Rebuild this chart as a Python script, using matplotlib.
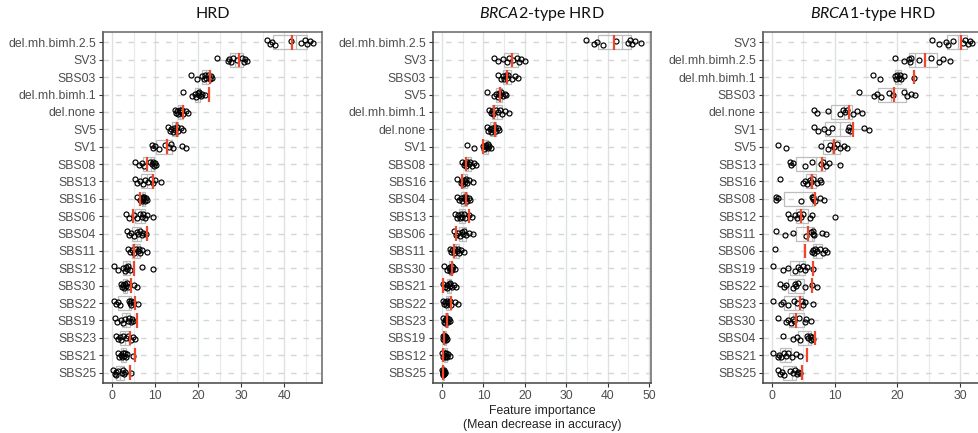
import matplotlib
matplotlib.use("Agg")
import matplotlib.pyplot as plt
import numpy as np

# ---------------- data ----------------
hrd_features = ["del.mh.bimh.2.5", "SV3", "SBS03", "del.mh.bimh.1", "del.none", "SV5", "SV1",
                "SBS08", "SBS13", "SBS16", "SBS06", "SBS04", "SBS11", "SBS12", "SBS30",
                "SBS22", "SBS19", "SBS23", "SBS21", "SBS25"]
hrd_points = [
    [36.0, 36.6, 37.2, 37.9, 41.6, 44.0, 44.9, 45.4, 46.0, 46.7],
    [24.5, 26.9, 27.3, 27.7, 28.2, 29.0, 30.3, 30.6, 31.0, 31.4],
    [18.3, 19.7, 20.8, 21.4, 21.7, 21.9, 22.2, 22.7, 23.0, 23.3],
    [16.4, 18.5, 19.2, 19.6, 19.9, 20.1, 20.3, 20.6, 21.0, 21.5],
    [14.7, 14.9, 15.2, 15.4, 15.7, 15.9, 16.2, 16.6, 17.2, 17.7],
    [13.1, 13.5, 13.8, 14.1, 14.4, 14.7, 15.0, 15.4, 16.0, 16.6],
    [9.2, 9.5, 9.9, 11.0, 12.3, 13.2, 13.6, 14.1, 16.2, 17.1],
    [5.3, 6.3, 7.0, 7.5, 8.8, 9.2, 9.5, 9.8, 10.0, 10.3],
    [5.3, 5.9, 6.5, 7.1, 7.7, 8.4, 9.0, 9.5, 10.0, 11.3],
    [5.7, 6.4, 6.9, 7.0, 7.1, 7.3, 7.4, 7.6, 7.8, 8.1],
    [3.3, 4.0, 5.0, 5.9, 6.5, 6.9, 7.3, 7.7, 8.1, 9.5],
    [3.4, 4.0, 4.5, 5.1, 5.7, 6.1, 6.5, 6.9, 7.3, 7.8],
    [3.6, 4.2, 4.6, 5.0, 5.6, 6.0, 6.3, 6.5, 6.9, 8.1],
    [0.5, 1.5, 2.5, 2.9, 3.2, 3.5, 3.8, 4.2, 6.9, 9.5],
    [2.0, 2.3, 2.6, 2.8, 3.0, 3.2, 3.4, 3.6, 5.0, 5.9],
    [0.5, 0.9, 1.4, 1.8, 4.0, 4.1, 4.3, 4.5, 4.8, 6.1],
    [0.7, 1.2, 2.1, 2.6, 3.1, 3.6, 3.9, 4.3, 4.6, 4.9],
    [1.0, 1.4, 1.8, 2.0, 2.5, 3.3, 3.7, 4.3, 4.9, 5.3],
    [1.4, 1.7, 2.0, 2.3, 2.5, 2.8, 3.0, 3.2, 3.4, 4.8],
    [0.2, 0.6, 0.9, 1.0, 1.3, 2.2, 2.5, 2.8, 3.0, 4.5],
]
hrd_full = [41.9, 29.5, 22.8, 22.6, 16.4, 15.0, 12.7, 8.1, 9.5, 6.6,
            4.9, 8.1, 5.2, 5.0, 4.4, 5.3, 5.7, 4.2, 5.3, 4.2]

brca2_features = ["del.mh.bimh.2.5", "SV3", "SBS03", "SV5", "del.mh.bimh.1", "del.none", "SV1",
                  "SBS08", "SBS16", "SBS04", "SBS13", "SBS06", "SBS11", "SBS30", "SBS21",
                  "SBS22", "SBS23", "SBS19", "SBS12", "SBS25"]
brca2_points = [
    [34.9, 36.6, 37.4, 39.0, 42.0, 45.0, 45.4, 45.8, 46.6, 48.2],
    [12.6, 13.4, 14.8, 15.6, 16.1, 17.1, 18.2, 18.5, 19.0, 20.0],
    [13.6, 14.2, 14.7, 15.0, 15.4, 15.6, 16.0, 16.8, 17.6, 18.4],
    [10.9, 12.6, 13.0, 13.4, 13.8, 14.1, 14.3, 14.7, 15.1, 15.5],
    [11.4, 11.8, 12.0, 12.4, 13.0, 13.6, 14.0, 14.6, 15.2, 16.2],
    [10.8, 11.2, 11.6, 11.9, 12.1, 12.4, 12.7, 13.0, 13.4, 13.8],
    [6.1, 7.6, 9.8, 10.1, 10.5, 10.7, 11.0, 11.2, 11.4, 11.8],
    [4.8, 5.2, 5.5, 5.8, 6.1, 6.4, 6.8, 7.2, 7.6, 8.2],
    [3.5, 4.6, 4.8, 5.1, 5.3, 5.6, 5.8, 6.1, 6.6, 7.4],
    [3.7, 4.2, 4.6, 4.9, 5.2, 5.5, 5.8, 6.1, 6.4, 6.8],
    [3.1, 3.5, 3.9, 4.3, 4.6, 4.8, 5.2, 5.6, 6.6, 7.2],
    [2.9, 3.4, 3.9, 4.3, 4.8, 5.0, 5.3, 5.8, 6.6, 7.4],
    [1.8, 2.2, 2.5, 2.8, 3.1, 3.5, 3.9, 4.2, 4.6, 5.3],
    [0.5, 1.1, 1.6, 1.8, 2.0, 2.1, 2.3, 2.5, 2.7, 3.0],
    [0.3, 0.8, 1.1, 1.3, 1.6, 1.8, 2.0, 2.3, 2.8, 3.3],
    [0.2, 0.5, 0.8, 1.0, 1.3, 1.5, 1.9, 2.1, 3.0, 3.9],
    [0.3, 0.5, 0.6, 0.8, 1.0, 1.1, 1.3, 1.5, 1.7, 2.0],
    [0.1, 0.3, 0.4, 0.5, 0.6, 0.7, 0.8, 0.9, 1.0, 1.3],
    [0.0, 0.2, 0.4, 0.6, 0.7, 0.9, 1.0, 1.2, 1.5, 1.8],
    [0.0, 0.1, 0.2, 0.2, 0.3, 0.3, 0.4, 0.5, 0.6, 0.8],
]
brca2_full = [41.5, 16.8, 15.8, 14.0, 12.6, 12.8, 9.8, 5.8, 4.8, 5.8,
              6.4, 3.4, 2.9, 2.3, 0.1, 2.1, 1.3, 0.5, 0.1, 0.2]

brca1_features = ["SV3", "del.mh.bimh.2.5", "del.mh.bimh.1", "SBS03", "del.none", "SV1", "SV5",
                  "SBS13", "SBS16", "SBS08", "SBS12", "SBS11", "SBS06", "SBS19", "SBS22",
                  "SBS23", "SBS30", "SBS04", "SBS21", "SBS25"]
brca1_points = [
    [25.5, 26.7, 27.8, 28.0, 28.9, 30.4, 30.8, 31.2, 31.5, 31.9],
    [19.6, 21.0, 21.8, 22.0, 22.2, 23.5, 25.3, 26.7, 27.3, 28.4],
    [16.1, 17.2, 19.6, 19.8, 20.0, 20.2, 20.4, 20.6, 21.1, 22.6],
    [13.9, 16.2, 16.7, 17.3, 18.7, 19.3, 21.1, 21.5, 22.1, 22.8],
    [6.7, 7.2, 8.9, 10.8, 11.3, 11.6, 12.0, 12.9, 13.5, 14.3],
    [6.7, 7.3, 8.3, 9.0, 9.5, 12.1, 12.3, 12.5, 14.7, 15.5],
    [1.0, 2.2, 7.8, 9.0, 9.3, 9.9, 10.4, 10.9, 11.5, 11.9],
    [2.8, 3.0, 3.4, 5.3, 6.3, 7.8, 8.2, 8.6, 9.1, 10.9],
    [1.2, 4.9, 5.3, 5.6, 6.0, 6.2, 6.5, 7.1, 7.6, 7.8],
    [0.6, 0.7, 1.0, 4.6, 6.3, 6.5, 6.6, 6.8, 7.6, 8.3],
    [2.6, 2.9, 3.7, 4.0, 4.3, 4.6, 5.0, 6.0, 6.3, 10.1],
    [0.7, 2.1, 3.3, 5.4, 6.2, 6.5, 6.6, 6.7, 7.9, 8.6],
    [0.4, 6.3, 6.5, 6.7, 6.9, 7.2, 7.6, 8.1, 8.4, 8.7],
    [0.1, 1.7, 2.6, 3.7, 4.2, 4.5, 4.9, 5.3, 5.5, 6.5],
    [1.2, 1.9, 2.2, 3.3, 3.6, 3.8, 4.2, 5.3, 6.3, 7.2],
    [0.1, 1.4, 1.7, 2.6, 3.5, 3.9, 4.7, 5.0, 5.3, 6.5],
    [0.9, 2.2, 2.6, 3.0, 3.3, 3.5, 4.3, 5.3, 5.4, 6.2],
    [1.7, 3.4, 4.0, 4.4, 5.5, 5.8, 6.0, 6.2, 6.4, 6.5],
    [0.2, 1.0, 1.1, 1.5, 1.9, 2.2, 2.5, 3.1, 3.8, 4.4],
    [0.9, 1.3, 1.6, 1.9, 2.9, 3.3, 3.7, 3.9, 4.2, 4.5],
]
brca1_full = [30.2, 24.4, 22.6, 19.5, 12.2, 12.9, 9.8, 8.0, 6.4, 6.9,
              4.6, 5.7, 5.2, 6.5, 6.4, 4.4, 3.8, 6.9, 5.5, 4.8]

panel_titles = ["HRD", r"$\mathit{BRCA2}$-type HRD", r"$\mathit{BRCA1}$-type HRD"]
panel_xticks = [[0, 10, 20, 30, 40], [0, 10, 20, 30, 40, 50], [0, 10, 20, 30]]
x_label = "Feature importance\n(Mean decrease in accuracy)"

# ---------------- style ----------------
plt.rcParams["font.family"] = ["Liberation Sans", "DejaVu Sans"]
plt.rcParams["mathtext.fontset"] = "custom"
plt.rcParams["mathtext.rm"] = "Lato"
plt.rcParams["mathtext.it"] = "Lato:italic"

W, H = 979, 433
fig = plt.figure(figsize=(W / 100, H / 100), dpi=100)

panel_px = [(103, 322), (433, 651), (763, 983)]
panel_xlim = [(-2.1, 48.8), (-2.2, 50.5), (-1.45, 33.65)]
top_px, bot_px = 32, 383

jit = np.array([0.12, -0.08, 0.04, -0.13, 0.10, -0.02, 0.13, -0.10, 0.06, -0.05])

panels = [(hrd_features, hrd_points, hrd_full),
          (brca2_features, brca2_points, brca2_full),
          (brca1_features, brca1_points, brca1_full)]

grey_txt = "#4D4D4D"
red = "#F2462B"
box_col = "#BDBDBD"

for k, (feats, pts, full) in enumerate(panels):
    l, r = panel_px[k]
    ax = fig.add_axes([l / W, 1 - bot_px / H, (r - l) / W, (bot_px - top_px) / H])
    n = len(feats)
    ypos = np.arange(n, 0, -1)

    x0, x1 = panel_xlim[k]
    for gx in np.arange(0, x1 + 0.01, 5):
        major = (gx % 10 == 0)
        ax.axvline(gx, color="#DCE1E5" if major else "#E6EAED", lw=1.0 if major else 0.8, zorder=0)
    for yy in ypos:
        ax.axhline(yy, color="#D6D6D6", lw=1.0, ls=(0, (4, 5)), zorder=0)

    ax.boxplot(pts, positions=ypos, orientation="horizontal", widths=0.8,
               showfliers=False, patch_artist=True, showcaps=False,
               boxprops=dict(facecolor="none", edgecolor=box_col, lw=0.9),
               whiskerprops=dict(color=box_col, lw=0.9),
               medianprops=dict(color=box_col, lw=0.9),
               zorder=2)
    for yy, vals in zip(ypos, pts):
        ax.plot(vals, yy + jit[:len(vals)], ls="none", marker="o", ms=3.6,
                mfc="none", mec="black", mew=0.85, zorder=3)
    for yy, v in zip(ypos, full):
        ax.plot([v, v], [yy - 0.42, yy + 0.42], color=red, lw=1.6, zorder=4,
                solid_capstyle="butt")

    ax.set_xlim(x0, x1)
    ax.set_ylim(0.4, n + 0.6)
    ax.set_yticks(ypos)
    ax.set_yticklabels(feats)
    ax.set_xticks(panel_xticks[k])
    ax.tick_params(axis="both", labelsize=8.8, labelcolor=grey_txt, color="#333333",
                   length=3, width=0.8, pad=2)
    for sp in ax.spines.values():
        sp.set_color("#666666")
        sp.set_linewidth(1.1)
    ax.spines["left"].set_color("#444444")
    ax.spines["bottom"].set_color("#444444")

    cx = ((l + r) / 2) / W
    fig.text(cx, 1 - 14 / H, panel_titles[k], ha="center", va="center",
             fontsize=11.5, family="Lato", color="#111111")

fig.text(542 / W, 1 - 418 / H, x_label, ha="center", va="center",
         fontsize=8.8, color="#222222", linespacing=1.15)

fig.savefig("out.png", dpi=100)
